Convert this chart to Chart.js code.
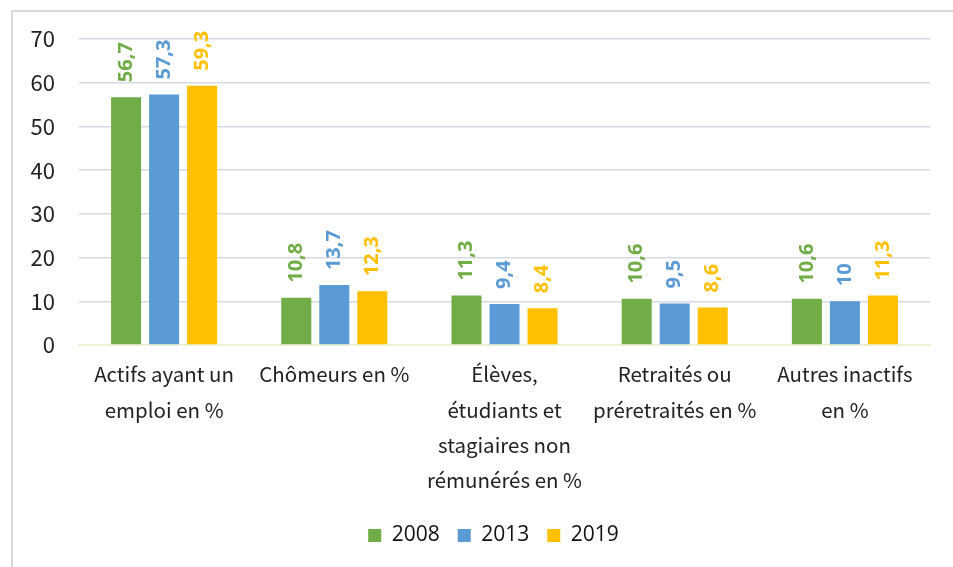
<!DOCTYPE html>
<html>
<head>
<meta charset="utf-8">
<script src="https://cdn.jsdelivr.net/npm/chart.js@4/dist/chart.umd.min.js"></script>
<style>
    body { margin: 0; background: #fff; }
    #wrap { position: relative; width: 953px; height: 567px; }
    #frame {
        position: absolute; left: 11px; top: 10px; right: 0; bottom: 0;
        border-top: 2px solid #d9d9d9; border-left: 2px solid #d9d9d9;
        pointer-events: none;
    }
</style>
</head>
<body>
<div id="wrap">
    <canvas id="myChart" width="953" height="567"></canvas>
    <div id="frame"></div>
</div>
<script>
const categories = [
    ['Actifs ayant un', 'emploi en %'],
    'Chômeurs en %',
    ['Élèves,', 'étudiants et', 'stagiaires non', 'rémunérés en %'],
    ['Retraités ou', 'préretraités en %'],
    ['Autres inactifs', 'en %']
];
const years = ['2008', '2013', '2019'];
const values2008 = [56.7, 10.8, 11.3, 10.6, 10.6];
const values2013 = [57.3, 13.7, 9.4, 9.5, 10];
const values2019 = [59.3, 12.3, 8.4, 8.6, 11.3];
const colors = ['#70AD47', '#5B9BD5', '#FFC000'];

// value labels written vertically above each bar, in the bar's colour
const barLabels = {
    id: 'barLabels',
    afterDatasetsDraw(chart) {
        const ctx = chart.ctx;
        ctx.save();
        ctx.font = 'bold 20px "Open Sans"';
        ctx.textAlign = 'left';
        ctx.textBaseline = 'middle';
        chart.data.datasets.forEach((ds, i) => {
            chart.getDatasetMeta(i).data.forEach((bar, j) => {
                const txt = String(ds.data[j]).replace('.', ',');
                ctx.save();
                ctx.translate(bar.x, bar.y - 15);
                ctx.rotate(-Math.PI / 2);
                ctx.fillStyle = ds.backgroundColor;
                ctx.fillText(txt, 0, 0);
                ctx.restore();
            });
        });
        ctx.restore();
    }
};

// centre the legend under the plot area rather than the whole canvas
const legendShift = {
    id: 'legendShift',
    afterLayout(chart) {
        const lg = chart.legend;
        const dx = (chart.chartArea.left + chart.chartArea.right) / 2 - (lg.left + lg.right) / 2 - 11;
        lg.left += dx;
        lg.right += dx;
    }
};

const ctx = document.getElementById('myChart').getContext('2d');
const myChart = new Chart(ctx, {
    type: 'bar',
    data: {
        labels: categories,
        datasets: [
            { label: years[0], data: values2008, backgroundColor: colors[0] },
            { label: years[1], data: values2013, backgroundColor: colors[1] },
            { label: years[2], data: values2019, backgroundColor: colors[2] }
        ].map(ds => Object.assign(ds, { categoryPercentage: 0.67, barPercentage: 0.79 }))
    },
    options: {
        responsive: false,
        animation: false,
        layout: { padding: { top: 39, right: 23, bottom: 11, left: 0 } },
        plugins: {
            tooltip: { enabled: false },
            legend: {
                position: 'bottom',
                labels: {
                    boxWidth: 13,
                    boxHeight: 13,
                    padding: 18,
                    color: '#111',
                    font: { family: "'Open Sans'", size: 21 }
                }
            }
        },
        scales: {
            x: {
                grid: { display: false },
                border: { color: '#eef3d8', width: 2 },
                ticks: {
                    color: '#222',
                    padding: 4,
                    maxRotation: 0,
                    autoSkip: false,
                    font: { family: "'Noto Sans CJK JP'", size: 20.5, lineHeight: 1.72 }
                },
                afterFit(scale) { scale.height = 162; }
            },
            y: {
                min: 0,
                max: 70,
                ticks: {
                    stepSize: 10,
                    color: '#222',
                    padding: 24,
                    font: { family: "'Noto Sans CJK JP'", size: 22 }
                },
                grid: { color: '#d6dae4', lineWidth: 1.5, drawTicks: false },
                border: { display: false },
                afterFit(scale) { scale.width = 79; }
            }
        }
    },
    plugins: [barLabels, legendShift]
});
</script>
</body>
</html>
